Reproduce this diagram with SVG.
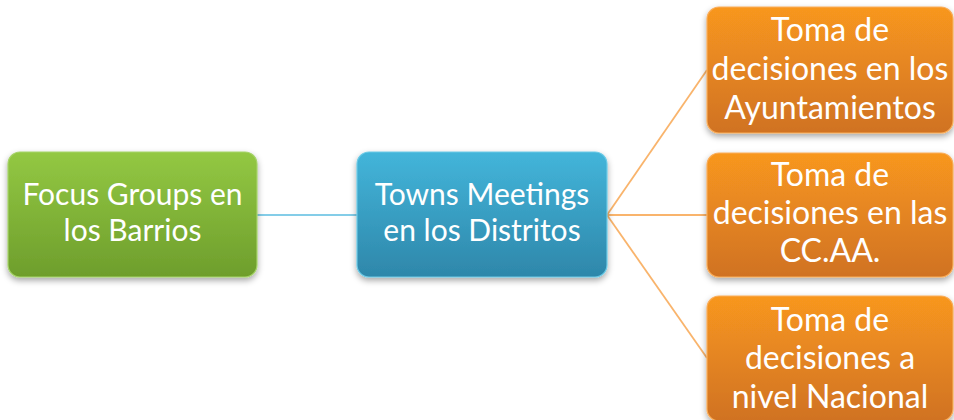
<svg xmlns="http://www.w3.org/2000/svg" width="954" height="420" viewBox="0 0 954 420">
<defs>
<linearGradient id="gGreen" x1="0" y1="0" x2="0" y2="1"><stop offset="0" stop-color="#93c843"/><stop offset="1" stop-color="#6e9e2c"/></linearGradient>
<linearGradient id="gBlue" x1="0" y1="0" x2="0" y2="1"><stop offset="0" stop-color="#43b5da"/><stop offset="1" stop-color="#2e87aa"/></linearGradient>
<linearGradient id="gOrange" x1="0" y1="0" x2="0" y2="1"><stop offset="0" stop-color="#f8971f"/><stop offset="1" stop-color="#d07222"/></linearGradient>
<filter id="sh" x="-10%" y="-10%" width="120%" height="130%"><feDropShadow dx="0" dy="3" stdDeviation="3" flood-color="#000" flood-opacity="0.35"/></filter>
</defs>
<style>
.box{filter:url(#sh);stroke-width:1.2}
.t{font-family:Lato,"Open Sans",sans-serif;font-size:30px;fill:#fff;text-anchor:middle}
.o{font-size:32px}
.cb{stroke:#5bbde0;stroke-width:1.5;fill:none}
.co{stroke:#f9b46c;stroke-width:1.8;fill:none}
</style>
<g id="connectors">
<line class="cb" x1="257" y1="215" x2="357" y2="215"/>
<line class="co" x1="607" y1="215" x2="707" y2="70"/>
<line class="co" x1="607" y1="215" x2="707" y2="215"/>
<line class="co" x1="607" y1="215" x2="707" y2="358"/>
</g>
<g id="focus">
<rect class="box" x="8" y="152" width="249" height="125" rx="12" fill="url(#gGreen)" stroke="#a6d36a"/>
<text class="t" x="132.5" y="205">Focus Groups en</text>
<text class="t" x="132.5" y="241">los Barrios</text>
</g>
<g id="towns">
<rect class="box" x="357" y="152" width="250" height="125" rx="12" fill="url(#gBlue)" stroke="#6ccae6"/>
<text class="t" x="482" y="205">Towns Meetings</text>
<text class="t" x="482" y="241">en los Distritos</text>
</g>
<g id="ayuntamientos">
<rect class="box" x="707" y="7" width="246" height="126" rx="12" fill="url(#gOrange)" stroke="#f9ad5a"/>
<text class="t o" x="830" y="41">Toma de</text>
<text class="t o" x="830" y="80">decisiones en los</text>
<text class="t o" x="830" y="119">Ayuntamientos</text>
</g>
<g id="ccaa">
<rect class="box" x="707" y="153" width="246" height="124" rx="12" fill="url(#gOrange)" stroke="#f9ad5a"/>
<text class="t o" x="830" y="186">Toma de</text>
<text class="t o" x="830" y="224">decisiones en las</text>
<text class="t o" x="830" y="262">CC.AA.</text>
</g>
<g id="nacional">
<rect class="box" x="707" y="296" width="246" height="125" rx="12" fill="url(#gOrange)" stroke="#f9ad5a"/>
<text class="t o" x="830" y="331">Toma de</text>
<text class="t o" x="830" y="369">decisiones a</text>
<text class="t o" x="830" y="408">nivel Nacional</text>
</g>
</svg>
